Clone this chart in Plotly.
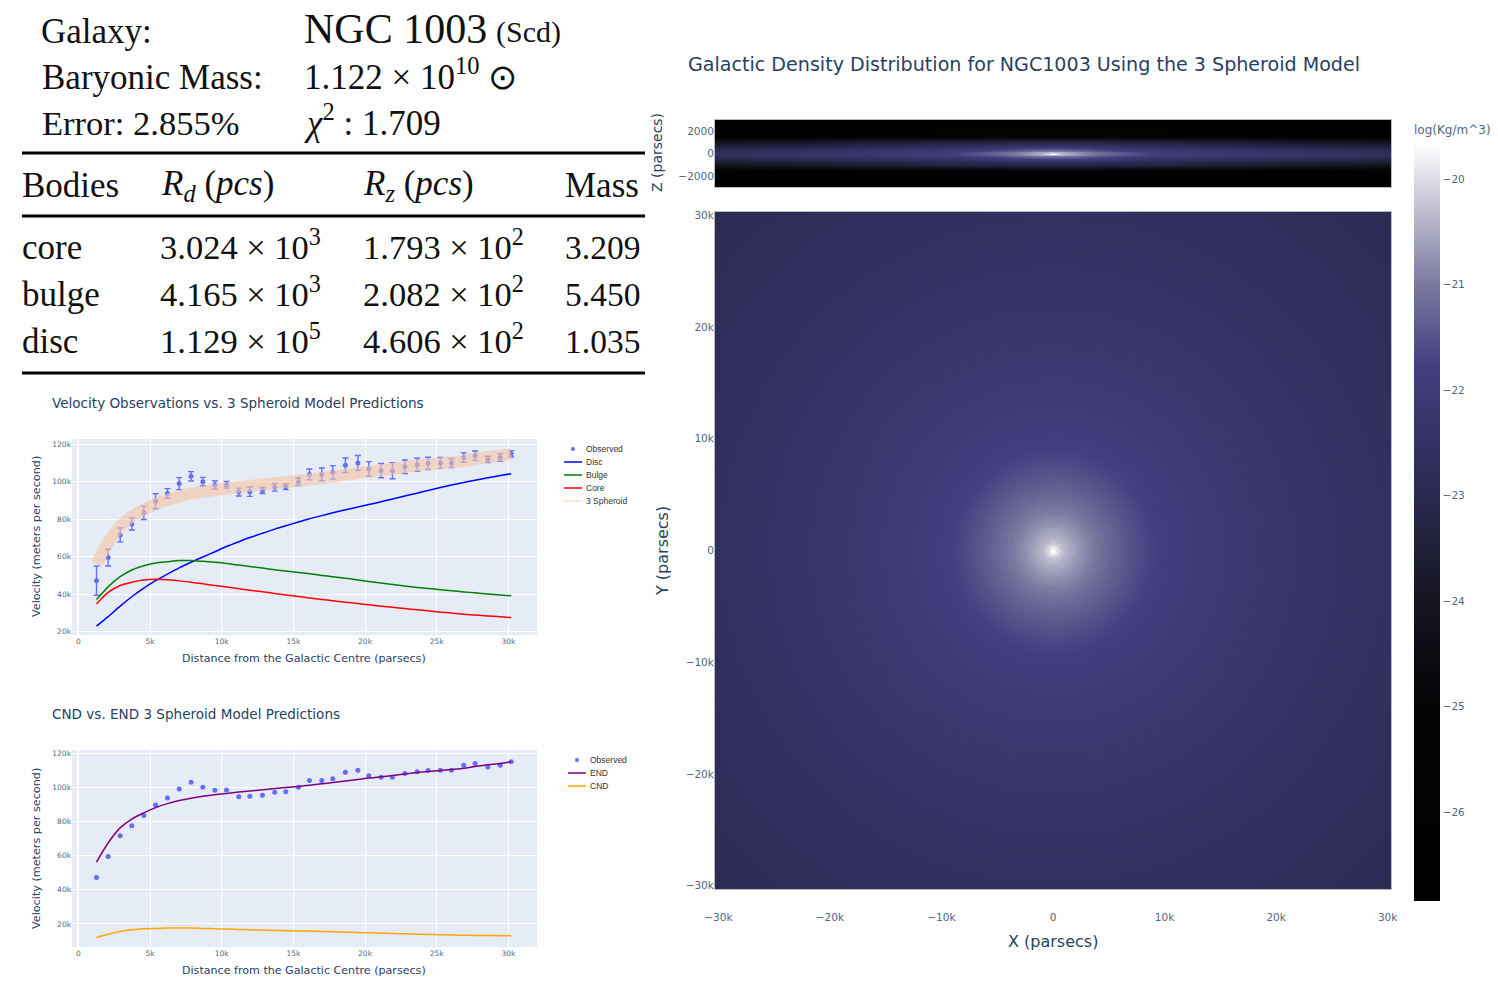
import numpy as np
import plotly.graph_objects as go

W = 1498
H = 985
BLUE_TXT = "#2a3f5f"
TICK_TXT = "#506784"
SANS = "DejaVu Sans"
SERIF = "Liberation Serif"

# rotation curve panel (parsecs, metres per second)
radius = [1260, 2070, 2910, 3720, 4560, 5380, 6210, 7030, 7860, 8680, 9520, 10330, 11190, 11960, 12840, 13700,
          14470, 15350, 16120, 16980, 17750, 18630, 19500, 20260, 21120, 21910, 22780, 23640, 24400, 25260,
          26030, 26890, 27680, 28570, 29430, 30200]
observed = [47200, 59500, 71600, 77500, 83400, 89600, 93700, 99000, 102900, 100000, 98200, 98400, 94500, 94700,
            95300, 97000, 97300, 100000, 103900, 103900, 105000, 108800, 110000, 106800, 105900, 105900, 108000,
            109000, 109800, 110000, 110000, 112900, 113900, 111900, 112900, 114900]
observed_err = [7800, 4500, 3700, 3300, 3600, 4000, 2600, 3200, 2500, 2300, 2200, 1800, 2100, 2500, 1600, 2000,
                1500, 2000, 2900, 3400, 3600, 3900, 4000, 3900, 3800, 4300, 3600, 3500, 3300, 2900, 2400, 2500,
                2500, 1700, 2000, 1700]
disc = [22900, 28000, 33600, 38600, 43200, 47200, 50700, 54000, 57000, 59800, 62600, 65400, 68000, 70200, 72500,
        74700, 76500, 78500, 80200, 81900, 83400, 85000, 86500, 87800, 89300, 90800, 92400, 93900, 95300, 96900,
        98200, 99600, 100800, 102100, 103300, 104300]
bulge = [37100, 43900, 49300, 52900, 55200, 56600, 57300, 57900, 57900, 57500, 57000, 56400, 55500, 54800, 53900,
         53000, 52300, 51600, 50900, 50000, 49300, 48500, 47600, 46800, 45900, 45100, 44300, 43600, 43000, 42400,
         41800, 41200, 40700, 40100, 39600, 39100]
core = [34800, 41000, 44600, 46400, 47500, 47900, 47700, 47100, 46400, 45500, 44600, 43800, 42900, 42100, 41300,
        40400, 39600, 38800, 38000, 37200, 36500, 35700, 35000, 34300, 33600, 33000, 32300, 31700, 31100, 30400,
        29900, 29300, 28900, 28400, 27900, 27500]
end_model = [56200, 67400, 76200, 81400, 85000, 88100, 90400, 92200, 93600, 94700, 95600, 96400, 97200, 97800,
             98500, 99200, 99800, 100500, 101200, 102000, 102800, 103700, 104600, 105400, 106100, 106900, 107800,
             108600, 109200, 109800, 110400, 111100, 112100, 113100, 113900, 114900]
cnd_model = [12100, 14000, 15600, 16600, 17200, 17400, 17600, 17600, 17600, 17400, 17200, 17000, 16800, 16600,
             16400, 16200, 16000, 15900, 15800, 15600, 15400, 15200, 15000, 14800, 14600, 14400, 14200, 14000,
             13800, 13700, 13500, 13400, 13300, 13200, 13150, 13100]

ring_radius = [0, 100, 200, 300, 400, 500, 750, 1000, 1250, 1500, 1750, 2000, 2250, 2500, 2750, 3000, 3250, 3500, 3750,
               4000, 4250, 4500, 4750, 5000, 5250, 5500, 5750, 6000, 6250, 6500, 6750, 7000, 7250, 7500, 7750, 8000,
               8250, 8500, 8750, 9000, 9250, 9500, 9750, 10000, 10500, 11000, 11500, 12000, 12500, 13000, 13500,
               14000, 14500, 15000, 16000, 17000, 18000, 19000, 20000, 21000, 22000, 23000, 24000, 25000, 26000,
               27000, 28000, 29000, 30000, 32000, 34000, 36000, 38000, 40000, 43000]
ring_density = [-19.66, -19.68, -19.72, -19.85, -19.98, -20.08, -20.25, -20.38, -20.45, -20.52, -20.58, -20.64, -20.71,
                -20.77, -20.83, -20.88, -20.93, -20.98, -21.03, -21.07, -21.12, -21.16, -21.2, -21.24, -21.28, -21.31,
                -21.35, -21.38, -21.42, -21.45, -21.49, -21.52, -21.55, -21.58, -21.61, -21.64, -21.67, -21.7, -21.73,
                -21.75, -21.78, -21.8, -21.82, -21.83, -21.87, -21.9, -21.93, -21.95, -21.97, -21.98, -22.0, -22.01,
                -22.04, -22.07, -22.12, -22.16, -22.2, -22.23, -22.26, -22.3, -22.33, -22.37, -22.4, -22.43, -22.46,
                -22.49, -22.52, -22.55, -22.58, -22.63, -22.68, -22.72, -22.77, -22.83, -22.9]
height_above = [0, 100, 250, 400, 600, 800, 1000, 1250, 1500, 1750, 2000, 2500, 3000]
height_drop = [0, 0.05, 0.25, 0.45, 0.7, 1.0, 1.4, 2.1, 2.9, 3.5, 4.0, 4.3, 4.4]

colour_levels = [-26.84, -25.0, -24.0, -23.0, -22.0, -21.78, -21.0, -20.0, -19.66]
colour_values = ["#000000", "#040406", "#14141f", "#2a2950", "#3d3a76", "#423e80", "#7b799f", "#dcdce6", "#ffffff"]

table_rows = ["core", "bulge", "disc"]
table_rd = ["3.024 × 10<sup>3</sup>", "4.165 × 10<sup>3</sup>", "1.129 × 10<sup>5</sup>"]
table_rz = ["1.793 × 10<sup>2</sup>", "2.082 × 10<sup>2</sup>", "4.606 × 10<sup>2</sup>"]
table_mass = ["3.209", "5.450", "1.035"]


def xp(x):
    return x / W


def yp(y):
    return 1 - y / H


def label(x, y, text, size, color=BLUE_TXT, family=SANS, anchor="left", angle=0):
    fig.add_annotation(x=xp(x), y=yp(y), xref="paper", yref="paper", text=text, showarrow=False, xanchor=anchor,
                       yanchor="middle", textangle=angle, borderpad=0, font=dict(size=size, color=color, family=family))


def rule(x0, y0, x1, y1, color="black", width=3):
    fig.add_shape(type="line", xref="paper", yref="paper", x0=xp(x0), y0=yp(y0), x1=xp(x1), y1=yp(y1),
                  line=dict(color=color, width=width))


def ring_lookup(r):
    # nearest tabulated ring for every cell
    rings = np.array(ring_radius)
    idx = np.abs(r[..., None] - rings).argmin(axis=-1)
    return np.array(ring_density)[idx]


def legend_line(x, y, color, name, width=1.5):
    rule(x, y, x + 18, y, color=color, width=width)
    label(x + 21, y, name, 8.5, color="#333333", family="Liberation Sans")


def legend_dot(x, y, color, name):
    fig.add_shape(type="circle", xref="paper", yref="paper", x0=xp(x + 7), x1=xp(x + 11), y0=yp(y + 2), y1=yp(y - 2),
                  fillcolor=color, line=dict(width=0))
    label(x + 21, y, name, 8.5, color="#333333", family="Liberation Sans")


fig = go.Figure()

# velocity panels
dot = dict(size=5, color="#636efa")


def curve(values, color, width=1.5, xa="x", ya="y"):
    fig.add_trace(go.Scatter(x=radius, y=values, mode="lines", xaxis=xa, yaxis=ya,
                             line=dict(color=color, width=width, shape="spline", smoothing=0.8)))


fig.add_trace(go.Scatter(x=radius, y=observed, mode="markers", marker=dot, xaxis="x", yaxis="y",
                         error_y=dict(type="data", array=observed_err, color="#636efa", thickness=1.4, width=3)))
curve(disc, "blue")
curve(bulge, "green")
curve(core, "red")
curve(end_model, "rgba(246,196,162,0.6)", width=12)

fig.add_trace(go.Scatter(x=radius, y=observed, mode="markers", marker=dot, xaxis="x2", yaxis="y2"))
curve(end_model, "purple", xa="x2", ya="y2")
curve(cnd_model, "orange", xa="x2", ya="y2")

# density maps, both built from the ring table above
grid = np.arange(-30400, 30401, 200)
grid_x, grid_y = np.meshgrid(grid.astype(float), grid.astype(float))
face_on = np.round(ring_lookup(np.hypot(grid_x, grid_y)), 2)

heights = sorted([-h for h in height_above[1:]] + height_above)
drops = [height_drop[height_above.index(abs(h))] for h in heights]
edge_x, edge_z = np.meshgrid(grid.astype(float), np.array(heights, float))
edge_on = np.round(ring_lookup(np.hypot(edge_x, edge_z * 10)) - np.array(drops)[:, None], 2)

fig.add_trace(go.Heatmap(x=grid, y=heights, z=edge_on, coloraxis="coloraxis", zsmooth="best", xaxis="x3", yaxis="y3"))
fig.add_trace(go.Heatmap(x=grid, y=grid, z=face_on, coloraxis="coloraxis", zsmooth="best", xaxis="x4", yaxis="y4"))

small_tick = dict(size=7.5, color=TICK_TXT, family=SANS)
big_tick = dict(size=10.5, color=TICK_TXT, family=SANS)
span = colour_levels[-1] - colour_levels[0]

fig.update_layout(
    width=W, height=H, margin=dict(l=0, r=0, t=0, b=0, autoexpand=False), showlegend=False,
    paper_bgcolor="white", plot_bgcolor="#E5ECF6",
    xaxis=dict(domain=[xp(72), xp(537)], range=[-450, 32000], dtick=5000, gridcolor="white", zerolinecolor="white",
               zerolinewidth=1.5, tickfont=small_tick, anchor="y"),
    yaxis=dict(domain=[yp(635), yp(439)], range=[18200, 122800], dtick=20000, gridcolor="white", zeroline=False,
               tickfont=small_tick, anchor="x"),
    xaxis2=dict(domain=[xp(72), xp(537)], range=[-450, 32000], dtick=5000, gridcolor="white", zerolinecolor="white",
                zerolinewidth=1.5, tickfont=small_tick, anchor="y2"),
    yaxis2=dict(domain=[yp(947), yp(750)], range=[6500, 121800], dtick=20000, gridcolor="white", zeroline=False,
                tickfont=small_tick, anchor="x2"),
    xaxis3=dict(domain=[xp(715), xp(1391)], range=[-30300, 30300], showticklabels=False, showgrid=False,
                zeroline=False, showline=True, mirror=True, linecolor="#bbbbbb", anchor="y3"),
    yaxis3=dict(domain=[yp(187), yp(120)], range=[-2980, 2980], tickvals=[-2000, 0, 2000], showgrid=False,
                zeroline=False, tickfont=big_tick, ticklabelstandoff=-2, showline=True, mirror=True,
                linecolor="#bbbbbb", anchor="x3"),
    xaxis4=dict(domain=[xp(715), xp(1391)], range=[-30300, 30300], dtick=10000, showgrid=False, zeroline=False,
                tickfont=big_tick, ticklabelstandoff=18, showline=True, mirror=True, linecolor="#bbbbbb", anchor="y4"),
    yaxis4=dict(domain=[yp(889), yp(212)], range=[-30300, 30300], dtick=10000, showgrid=False, zeroline=False,
                tickfont=big_tick, ticklabelstandoff=-2, showline=True, mirror=True, linecolor="#bbbbbb", anchor="x4"),
    coloraxis=dict(
        cmin=colour_levels[0], cmax=colour_levels[-1],
        colorscale=[[(lv - colour_levels[0]) / span, c] for lv, c in zip(colour_levels, colour_values)],
        colorbar=dict(x=xp(1414), xanchor="left", y=yp(143), yanchor="top", len=758 / H, lenmode="fraction",
                      thickness=26, thicknessmode="pixels", xpad=0, ypad=0, outlinewidth=0, dtick=1,
                      tickfont=big_tick),
    ),
)

# the header block
label(40, 31, "Galaxy:", 35, "#111111", SERIF)
label(303, 29, "NGC 1003", 42, "#111111", SERIF)
label(495, 32, "(Scd)", 30, "#111111", SERIF)
label(41, 77, "Baryonic Mass:", 35, "#111111", SERIF)
label(303, 74, "1.122 × 10<sup>10</sup> ⊙", 35, "#111111", SERIF)
label(41, 123, "Error: 2.855%", 34.5, "#111111", SERIF)
label(303, 120, "<i>χ</i><sup>2</sup> : 1.709", 35, "#111111", SERIF)
rule(22, 153, 645, 153)
rule(22, 216, 645, 216)
rule(22, 373, 645, 373)
label(21, 185, "Bodies", 35, "#111111", SERIF)
label(160, 185, "<i>R<sub>d</sub></i> (<i>pcs</i>)", 35, "#111111", SERIF)
label(362, 185, "<i>R<sub>z</sub></i> (<i>pcs</i>)", 35, "#111111", SERIF)
label(564, 185, "Mass", 35, "#111111", SERIF)
for row_y, name, rd, rz, mass in zip([248, 294, 341], table_rows, table_rd, table_rz, table_mass):
    label(21, row_y, name, 35, "#111111", SERIF)
    label(159, row_y - 3, rd, 34.5, "#111111", SERIF)
    label(362, row_y - 3, rz, 34.5, "#111111", SERIF)
    label(564, row_y, mass, 33.5, "#111111", SERIF)

# titles
label(51, 403, "Velocity Observations vs. 3 Spheroid Model Predictions", 13.55)
label(51, 714, "CND vs. END 3 Spheroid Model Predictions", 13.55)
label(687, 64, "Galactic Density Distribution for NGC1003 Using the 3 Spheroid Model", 19.1)
label(304, 658, "Distance from the Galactic Centre (parsecs)", 11.1, anchor="center")
label(304, 970, "Distance from the Galactic Centre (parsecs)", 11.1, anchor="center")
label(36, 537, "Velocity (meters per second)", 11.2, anchor="center", angle=-90)
label(36, 849, "Velocity (meters per second)", 11.2, anchor="center", angle=-90)
label(657, 153, "Z (parsecs)", 14, anchor="center", angle=-90)
label(662, 551, "Y (parsecs)", 16, anchor="center", angle=-90)
label(1053, 941, "X (parsecs)", 16, anchor="center")
label(1452, 130, "log(Kg/m^3)", 12, TICK_TXT, anchor="center")

# legends drawn by hand, the native rows can't go this tight
legend_dot(564, 449, "#636efa", "Observed")
legend_line(564, 462, "blue", "Disc")
legend_line(564, 475, "green", "Bulge")
legend_line(564, 488, "red", "Core")
legend_line(564, 501, "rgba(246,196,162,0.5)", "3 Spheroid")
legend_dot(568, 760, "#636efa", "Observed")
legend_line(568, 773, "purple", "END")
legend_line(568, 786, "orange", "CND")

fig.write_html("out.html", config={"displayModeBar": False}, post_script="document.body.style.margin='0';")
